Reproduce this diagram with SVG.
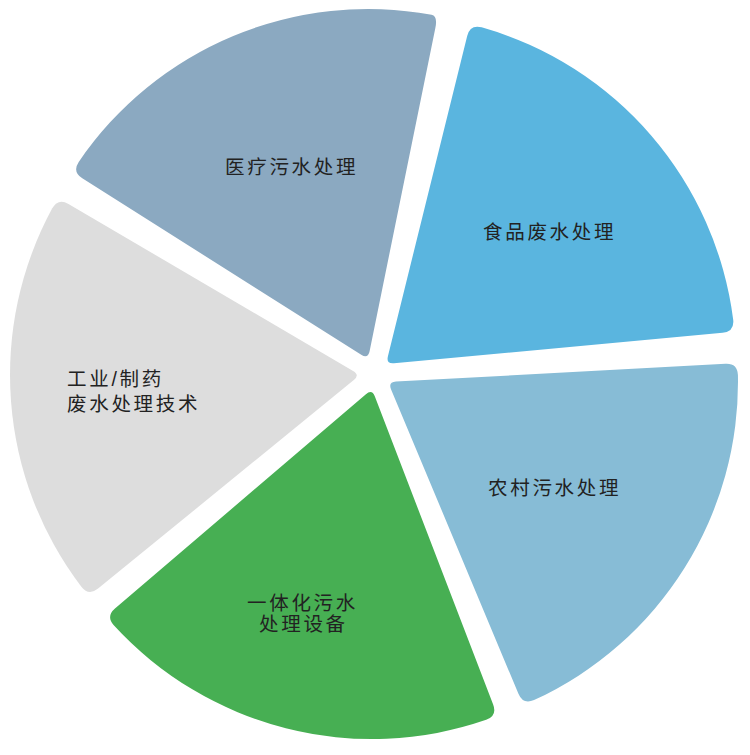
<svg xmlns="http://www.w3.org/2000/svg" width="750" height="755" viewBox="0 0 750 755">
  <style>
    .lbl { font-family: "Liberation Sans", "Noto Sans CJK SC", sans-serif; font-size: 19.5px; fill: #222222; letter-spacing: 2.7px; }
  </style>
  <rect width="750" height="755" fill="#ffffff"/>
  <g id="medical">
    <path fill="#8BA9C1" d="M361.24,354.72 L82.28,178.37 Q72.14,171.96 78.72,161.95 A350,350 0 0 1 431.56,14.81 Q437.79,16.03 435.40,27.79 L369.60,351.16 Q368,359 361.24,354.72 Z"/>
    <text class="lbl" x="225" y="173.5">医疗污水处理</text>
  </g>
  <g id="food">
    <path fill="#5AB5DF" d="M387.92,356.23 L467.19,35.90 Q470.07,24.25 481.66,27.30 A350,350 0 0 1 733.20,319.76 Q734.50,331.66 722.55,332.77 L393.97,363.26 Q386,364 387.92,356.23 Z"/>
    <text class="lbl" x="483" y="238.5">食品废水处理</text>
  </g>
  <g id="rural">
    <path fill="#87BCD6" d="M395.99,381.57 L725.50,363.71 Q737.48,363.06 737.93,375.06 A350,350 0 0 1 534.06,700.08 Q523.07,704.88 518.44,693.81 L391.09,389.38 Q388,382 395.99,381.57 Z"/>
    <text class="lbl" x="488" y="495">农村污水处理</text>
  </g>
  <g id="integrated">
    <path fill="#47AF53" d="M374.87,396.47 L493.14,704.56 Q497.44,715.76 486.17,719.86 A350,350 0 0 1 113.80,625.29 Q105.86,616.29 114.98,608.50 L365.92,394.20 Q372,389 374.87,396.47 Z"/>
    <text class="lbl" x="247" y="609.5">一体化污水</text>
    <text class="lbl" x="259" y="631">处理设备</text>
  </g>
  <g id="industrial">
    <path fill="#DDDDDD" d="M353.80,380.06 L98.08,588.62 Q88.78,596.20 81.36,586.79 A350,350 0 0 1 52.24,208.33 Q58.12,197.90 68.47,203.97 L353.10,370.95 Q360,375 353.80,380.06 Z"/>
    <text class="lbl" x="67" y="385.5">工业/制药</text>
    <text class="lbl" x="67" y="410.5">废水处理技术</text>
  </g>
  <g id="connectors"></g>
</svg>
